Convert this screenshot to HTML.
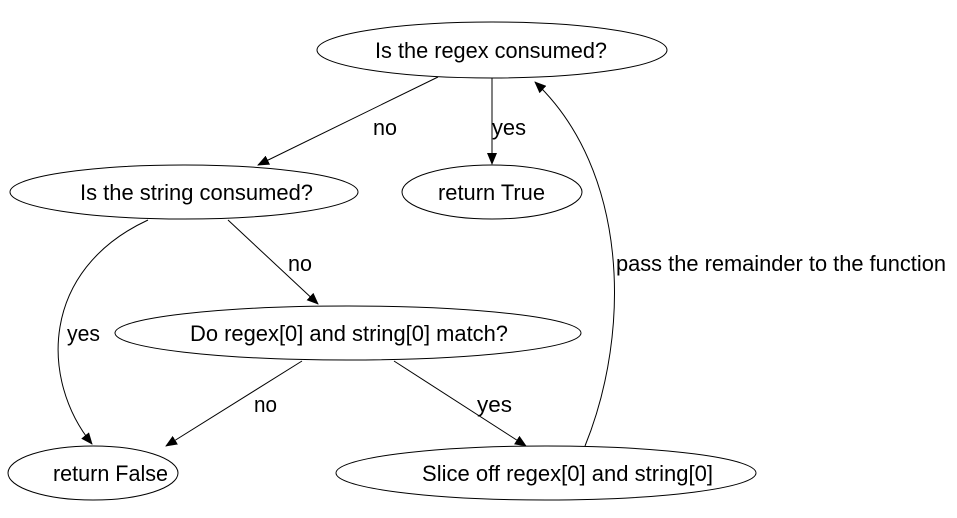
<!DOCTYPE html>
<html><head><style>body{margin:0;background:#fff}svg{display:block}</style></head><body>
<svg width="957" height="518" viewBox="0 0 957 518" xmlns="http://www.w3.org/2000/svg" font-family="Liberation Sans, sans-serif" font-size="22">
<defs><marker id="a" markerWidth="12" markerHeight="10" refX="11" refY="5" orient="auto" markerUnits="userSpaceOnUse"><path d="M0,0 L12,5 L0,10 z" fill="#000"/></marker></defs>
<g fill="none" stroke="#000" stroke-width="1">
<ellipse cx="492" cy="50" rx="175" ry="28"/>
<ellipse cx="184" cy="192" rx="174" ry="27"/>
<ellipse cx="492" cy="192" rx="90" ry="27"/>
<ellipse cx="348" cy="333" rx="233" ry="27"/>
<ellipse cx="93" cy="473" rx="85" ry="27"/>
<ellipse cx="546" cy="473" rx="210" ry="27"/>
<path d="M438,77 L258,165" marker-end="url(#a)"/>
<path d="M492,78 L492,164" marker-end="url(#a)"/>
<path d="M148,220 C40,270 40,380 92,444" marker-end="url(#a)"/>
<path d="M228,220 L318,304" marker-end="url(#a)"/>
<path d="M302,361 L166,446" marker-end="url(#a)"/>
<path d="M394,361 L526,446" marker-end="url(#a)"/>
<path d="M585,446 C632,330 628,170 535,82" marker-end="url(#a)"/>
</g>
<g fill="#000">
<text x="375" y="58" textLength="232" lengthAdjust="spacingAndGlyphs">Is the regex consumed?</text>
<text x="80" y="200" textLength="233" lengthAdjust="spacingAndGlyphs">Is the string consumed?</text>
<text x="438" y="200" textLength="107" lengthAdjust="spacingAndGlyphs">return True</text>
<text x="190" y="341" textLength="318" lengthAdjust="spacingAndGlyphs">Do regex[0] and string[0] match?</text>
<text x="53" y="481" textLength="115" lengthAdjust="spacingAndGlyphs">return False</text>
<text x="422" y="481" textLength="291" lengthAdjust="spacingAndGlyphs">Slice off regex[0] and string[0]</text>
<text x="373" y="135" textLength="24" lengthAdjust="spacingAndGlyphs">no</text>
<text x="492" y="135" textLength="34" lengthAdjust="spacingAndGlyphs">yes</text>
<text x="67" y="341" textLength="33" lengthAdjust="spacingAndGlyphs">yes</text>
<text x="288" y="271" textLength="24" lengthAdjust="spacingAndGlyphs">no</text>
<text x="254" y="412" textLength="23" lengthAdjust="spacingAndGlyphs">no</text>
<text x="477" y="412" textLength="35" lengthAdjust="spacingAndGlyphs">yes</text>
<text x="616" y="271" textLength="330" lengthAdjust="spacingAndGlyphs">pass the remainder to the function</text>
</g>
</svg>
</body></html>
